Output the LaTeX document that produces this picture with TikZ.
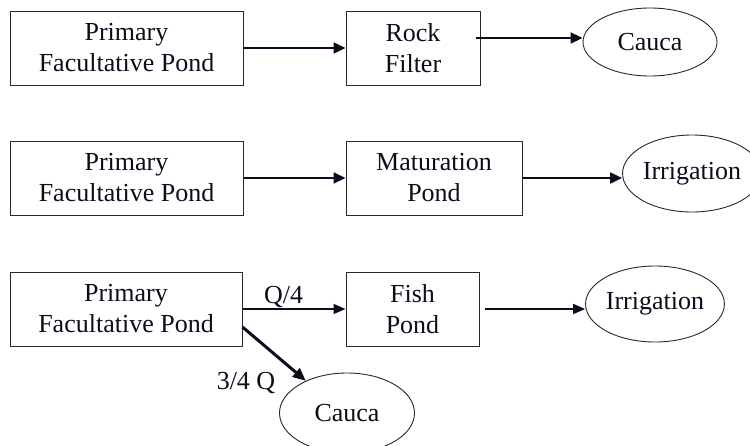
\documentclass[tikz,border=0pt]{standalone}
\usepackage{fontspec}
\setmainfont{Liberation Serif}
\usetikzlibrary{arrows.meta,shapes.geometric}
\definecolor{ink}{RGB}{12,12,28}
\definecolor{edge}{RGB}{40,40,40}
\begin{document}
\begin{tikzpicture}[x=1pt,y=-1pt,
  every node/.style={font=\fontsize{26}{31}\selectfont, inner sep=0pt, align=center, text=ink},
  pbox/.style={draw=edge, line width=1pt, rectangle, minimum height=74pt},
  oval/.style={draw=edge, line width=0.9pt, ellipse, minimum width=134pt},
  arr/.style={draw=ink, line width=2pt, -{Triangle[length=12pt,width=11pt]}},
  thinarr/.style={draw=ink, line width=1.6pt, -{Triangle[length=12pt,width=10pt]}},
  thickarr/.style={draw=ink, line width=3pt, -{Triangle[length=13pt,width=11pt]}},
  lbl/.style={anchor=base}
]
\useasboundingbox (0,0) rectangle (750,445);
% row 1
\node[pbox, minimum width=233pt] (p1) at (126.5,48) {Primary\\Facultative Pond};
\node[pbox, minimum width=134pt] (rf) at (413,48) {Rock\\Filter};
\node[oval, minimum height=68pt] (c1) at (650,42) {Cauca};
\draw[arr] (p1.east) -- (rf.west);
\draw[arr] ([xshift=-5pt,yshift=10pt]rf.east) -- ([yshift=4pt]c1.west);
% row 2
\node[pbox, minimum width=233pt] (p2) at (126.5,178) {Primary\\Facultative Pond};
\node[pbox, minimum width=176pt] (mp) at (434,178) {Maturation\\Pond};
\node[oval, minimum height=77pt] (ir2) at (692,173.5) {Irrigation};
\draw[arr] (p2.east) -- (mp.west);
\draw[arr] (mp.east) -- (ir2.west |- mp.east);
% row 3
\node[pbox, minimum width=232pt] (p3) at (126,309) {Primary\\Facultative Pond};
\node[pbox, minimum width=133pt] (fp) at (412.5,309) {Fish\\Pond};
\node[oval, minimum height=76pt] (ir3) at (655,304) {Irrigation};
\node[oval, minimum width=135pt, minimum height=80pt] (c3) at (347,413) {Cauca};
\draw[thinarr] (p3.east) -- (fp.west);
\draw[thinarr] ([xshift=5pt]fp.east) -- (ir3.west |- fp.east);
\draw[thickarr] ([yshift=-18pt]p3.east) -- (c3.142);
\node[lbl] (q4) at (283.5,303) {Q/4};
\node[lbl] (q34) at (246,389) {3/4 Q};
\end{tikzpicture}
\end{document}
